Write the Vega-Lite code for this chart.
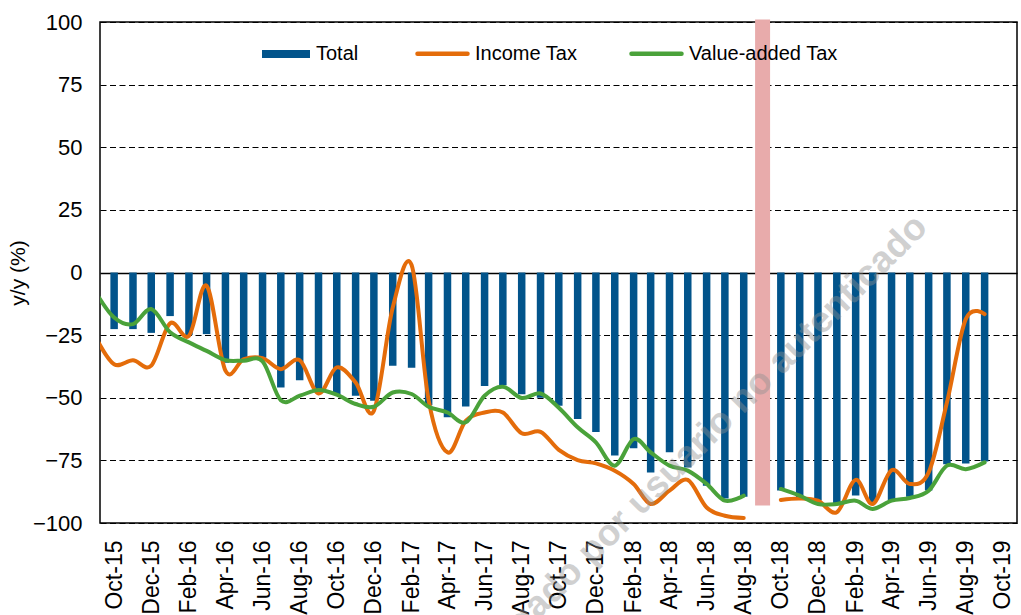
{
  "$schema": "https://vega.github.io/schema/vega-lite/v6.json",
  "width": 917,
  "height": 501,
  "autosize": {"type": "none"},
  "padding": {"left": 100, "top": 22, "right": 4, "bottom": 92},
  "background": "white",
  "config": {
    "font": "Liberation Sans",
    "view": {"stroke": "black", "strokeWidth": 1.5},
    "legend": {"labelFont": "Liberation Sans", "labelColor": "black", "labelFontSize": 20, "padding": 0}
  },
  "datasets": {
    "taxes": [
      {"month": "2015-09-01", "seg": 1, "Total": null, "Income Tax": -26, "Value-added Tax": -8},
      {"month": "2015-10-01", "seg": 1, "Total": -22.6, "Income Tax": -36.6, "Value-added Tax": -18},
      {"month": "2015-11-01", "seg": 1, "Total": -22.6, "Income Tax": -35, "Value-added Tax": -20.6},
      {"month": "2015-12-01", "seg": 1, "Total": -24.1, "Income Tax": -37.2, "Value-added Tax": -14.6},
      {"month": "2016-01-01", "seg": 1, "Total": -17.4, "Income Tax": -20.3, "Value-added Tax": -23.9},
      {"month": "2016-02-01", "seg": 1, "Total": -25, "Income Tax": -25.3, "Value-added Tax": -27.9},
      {"month": "2016-03-01", "seg": 1, "Total": -24.6, "Income Tax": -5.3, "Value-added Tax": -31.3},
      {"month": "2016-04-01", "seg": 1, "Total": -36, "Income Tax": -39.2, "Value-added Tax": -35},
      {"month": "2016-05-01", "seg": 1, "Total": -35, "Income Tax": -34.6, "Value-added Tax": -35.2},
      {"month": "2016-06-01", "seg": 1, "Total": -34, "Income Tax": -34.2, "Value-added Tax": -35.5},
      {"month": "2016-07-01", "seg": 1, "Total": -45.9, "Income Tax": -38.6, "Value-added Tax": -51},
      {"month": "2016-08-01", "seg": 1, "Total": -43, "Income Tax": -35, "Value-added Tax": -49.2},
      {"month": "2016-09-01", "seg": 1, "Total": -47, "Income Tax": -48.3, "Value-added Tax": -46.9},
      {"month": "2016-10-01", "seg": 1, "Total": -48.8, "Income Tax": -37.9, "Value-added Tax": -48.8},
      {"month": "2016-11-01", "seg": 1, "Total": -49.2, "Income Tax": -43.9, "Value-added Tax": -52.5},
      {"month": "2016-12-01", "seg": 1, "Total": -51.2, "Income Tax": -55.2, "Value-added Tax": -53.6},
      {"month": "2017-01-01", "seg": 1, "Total": -37.2, "Income Tax": -14, "Value-added Tax": -47.9},
      {"month": "2017-02-01", "seg": 1, "Total": -38, "Income Tax": 3, "Value-added Tax": -48.5},
      {"month": "2017-03-01", "seg": 1, "Total": -53, "Income Tax": -51, "Value-added Tax": -53.6},
      {"month": "2017-04-01", "seg": 1, "Total": -57.8, "Income Tax": -71.8, "Value-added Tax": -55.9},
      {"month": "2017-05-01", "seg": 1, "Total": -53.5, "Income Tax": -59.2, "Value-added Tax": -59.8},
      {"month": "2017-06-01", "seg": 1, "Total": -45.3, "Income Tax": -55.9, "Value-added Tax": -49.2},
      {"month": "2017-07-01", "seg": 1, "Total": -45, "Income Tax": -55.9, "Value-added Tax": -45.6},
      {"month": "2017-08-01", "seg": 1, "Total": -48.6, "Income Tax": -64.2, "Value-added Tax": -50.1},
      {"month": "2017-09-01", "seg": 1, "Total": -50, "Income Tax": -63.6, "Value-added Tax": -48.3},
      {"month": "2017-10-01", "seg": 1, "Total": -53.2, "Income Tax": -70.8, "Value-added Tax": -54},
      {"month": "2017-11-01", "seg": 1, "Total": -58.5, "Income Tax": -74.9, "Value-added Tax": -61.8},
      {"month": "2017-12-01", "seg": 1, "Total": -63.7, "Income Tax": -76.2, "Value-added Tax": -67.8},
      {"month": "2018-01-01", "seg": 1, "Total": -73.1, "Income Tax": -79.1, "Value-added Tax": -77.1},
      {"month": "2018-02-01", "seg": 1, "Total": -70.2, "Income Tax": -84.4, "Value-added Tax": -66.5},
      {"month": "2018-03-01", "seg": 1, "Total": -79.8, "Income Tax": -92.4, "Value-added Tax": -71.8},
      {"month": "2018-04-01", "seg": 1, "Total": -71.8, "Income Tax": -87.1, "Value-added Tax": -77.1},
      {"month": "2018-05-01", "seg": 1, "Total": -77.8, "Income Tax": -82.8, "Value-added Tax": -79.1},
      {"month": "2018-06-01", "seg": 1, "Total": -85.1, "Income Tax": -93.8, "Value-added Tax": -84.4},
      {"month": "2018-07-01", "seg": 1, "Total": -90.2, "Income Tax": -97.1, "Value-added Tax": -91.1},
      {"month": "2018-08-01", "seg": 1, "Total": -89.5, "Income Tax": -98, "Value-added Tax": -89.1},
      {"month": "2018-10-01", "seg": 2, "Total": -87, "Income Tax": -90.8, "Value-added Tax": -86.4},
      {"month": "2018-11-01", "seg": 2, "Total": -90, "Income Tax": -90.2, "Value-added Tax": -89.1},
      {"month": "2018-12-01", "seg": 2, "Total": -91, "Income Tax": -91.1, "Value-added Tax": -92.4},
      {"month": "2019-01-01", "seg": 2, "Total": -92, "Income Tax": -95.7, "Value-added Tax": -92.4},
      {"month": "2019-02-01", "seg": 2, "Total": -89, "Income Tax": -82.8, "Value-added Tax": -91.1},
      {"month": "2019-03-01", "seg": 2, "Total": -92, "Income Tax": -92.4, "Value-added Tax": -94.4},
      {"month": "2019-04-01", "seg": 2, "Total": -91, "Income Tax": -78.9, "Value-added Tax": -91.1},
      {"month": "2019-05-01", "seg": 2, "Total": -89.5, "Income Tax": -84.4, "Value-added Tax": -90},
      {"month": "2019-06-01", "seg": 2, "Total": -87, "Income Tax": -79.8, "Value-added Tax": -87.1},
      {"month": "2019-07-01", "seg": 2, "Total": -76.5, "Income Tax": -51.9, "Value-added Tax": -77.1},
      {"month": "2019-08-01", "seg": 2, "Total": -76.2, "Income Tax": -18.6, "Value-added Tax": -78.5},
      {"month": "2019-09-01", "seg": 2, "Total": -75.4, "Income Tax": -16.6, "Value-added Tax": -75.8}
    ],
    "band": [{"month": "2018-09-01", "value": -93, "value2": 101}],
    "watermark": [{"month": "2019-05-20", "value": 20.5, "text": "Documento descargado por usuario no autenticado"}]
  },
  "encoding": {
    "x": {
      "field": "month", "type": "temporal", "title": null,
      "scale": {"type": "utc", "domain": [{"year": 2015, "month": "sep", "date": 16, "utc": true}, {"year": 2019, "month": "oct", "date": 16, "utc": true}]},
      "axis": {
        "values": [
          {"year": 2015, "month": "oct", "date": 1, "utc": true},
          {"year": 2015, "month": "dec", "date": 1, "utc": true},
          {"year": 2016, "month": "feb", "date": 1, "utc": true},
          {"year": 2016, "month": "apr", "date": 1, "utc": true},
          {"year": 2016, "month": "jun", "date": 1, "utc": true},
          {"year": 2016, "month": "aug", "date": 1, "utc": true},
          {"year": 2016, "month": "oct", "date": 1, "utc": true},
          {"year": 2016, "month": "dec", "date": 1, "utc": true},
          {"year": 2017, "month": "feb", "date": 1, "utc": true},
          {"year": 2017, "month": "apr", "date": 1, "utc": true},
          {"year": 2017, "month": "jun", "date": 1, "utc": true},
          {"year": 2017, "month": "aug", "date": 1, "utc": true},
          {"year": 2017, "month": "oct", "date": 1, "utc": true},
          {"year": 2017, "month": "dec", "date": 1, "utc": true},
          {"year": 2018, "month": "feb", "date": 1, "utc": true},
          {"year": 2018, "month": "apr", "date": 1, "utc": true},
          {"year": 2018, "month": "jun", "date": 1, "utc": true},
          {"year": 2018, "month": "aug", "date": 1, "utc": true},
          {"year": 2018, "month": "oct", "date": 1, "utc": true},
          {"year": 2018, "month": "dec", "date": 1, "utc": true},
          {"year": 2019, "month": "feb", "date": 1, "utc": true},
          {"year": 2019, "month": "apr", "date": 1, "utc": true},
          {"year": 2019, "month": "jun", "date": 1, "utc": true},
          {"year": 2019, "month": "aug", "date": 1, "utc": true},
          {"year": 2019, "month": "oct", "date": 1, "utc": true}
        ],
        "labelExpr": "utcFormat(datum.value, '%b-%y')",
        "labelAngle": 270, "labelFontSize": 23, "labelColor": "black", "labelFont": "Liberation Sans",
        "labelPadding": 17, "ticks": false, "tickSize": 0, "domain": false, "grid": false,
        "labelOverlap": false, "labelFlush": false, "labelBound": false
      }
    },
    "y": {
      "field": "value", "type": "quantitative", "title": "y/y (%)",
      "scale": {"domain": [-100, 100], "nice": false, "zero": false},
      "axis": {
        "values": [-100, -75, -50, -25, 0, 25, 50, 75, 100],
        "labelFontSize": 22, "labelColor": "black", "labelFont": "Liberation Sans", "labelPadding": 18,
        "ticks": false, "tickSize": 0, "domain": false,
        "grid": true, "gridColor": "black", "gridOpacity": 1,
        "gridDash": {"condition": {"test": "datum.value === 0", "value": []}, "value": [6, 3.5]},
        "gridWidth": {"condition": {"test": "datum.value === 0", "value": 1.6}, "value": 1.2},
        "titleFontSize": 21, "titleFontWeight": "normal", "titleColor": "black", "titleFont": "Liberation Sans", "titlePadding": 4
      }
    }
  },
  "layer": [
    {
      "data": {"name": "band"},
      "mark": {"type": "bar", "size": 15, "color": "#E8ABAB"},
      "encoding": {"y2": {"field": "value2"}}
    },
    {
      "data": {"name": "taxes"},
      "transform": [
        {"fold": ["Total", "Income Tax", "Value-added Tax"], "as": ["series", "value"]},
        {"filter": "datum.series === 'Total' && isValid(datum.value)"}
      ],
      "mark": {"type": "bar", "size": 7.5},
      "encoding": {
        "color": {
          "field": "series", "type": "nominal",
          "scale": {"domain": ["Total"], "range": ["#02548B"]},
          "legend": {
            "orient": "none", "legendX": 162, "legendY": 8, "title": null, "direction": "horizontal",
            "symbolType": "M-1,-0.167H1V0.167H-1Z", "symbolSize": 2304, "symbolStrokeWidth": 0,
            "labelOffset": 6, "labelFontSize": 20
          }
        }
      }
    },
    {
      "data": {"name": "taxes"},
      "transform": [
        {"fold": ["Income Tax", "Value-added Tax"], "as": ["series", "value"]},
        {"filter": "isValid(datum.value)"}
      ],
      "mark": {"type": "line", "interpolate": "cardinal", "strokeWidth": 4, "strokeCap": "round", "strokeJoin": "round", "clip": true},
      "encoding": {
        "detail": {"field": "seg", "type": "nominal"},
        "stroke": {
          "field": "series", "type": "nominal",
          "scale": {"domain": ["Income Tax", "Value-added Tax"], "range": ["#E46C0A", "#4AA23A"]},
          "legend": {
            "orient": "none", "legendX": 315, "legendY": 4, "title": null, "direction": "horizontal",
            "symbolType": "stroke", "symbolSize": 2500, "symbolStrokeWidth": 4.5,
            "labelOffset": 5, "columnPadding": 44, "labelFontSize": 20,
            "encode": {"symbols": {"update": {"strokeCap": {"value": "round"}}}}
          }
        }
      }
    },
    {
      "data": {"name": "watermark"},
      "mark": {"type": "text", "font": "Liberation Sans", "fontWeight": "bold", "fontSize": 37, "angle": -45, "align": "right", "baseline": "middle", "color": "#909090", "opacity": 0.42},
      "encoding": {
        "text": {"field": "text"}
      }
    }
  ]
}
